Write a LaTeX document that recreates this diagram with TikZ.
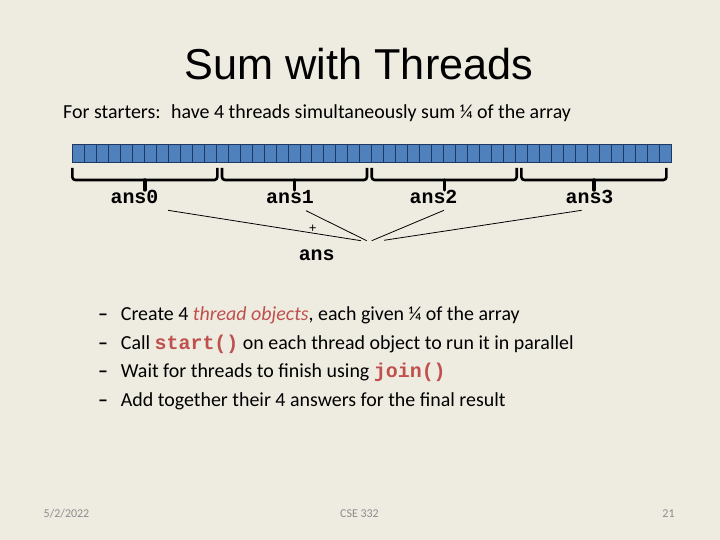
\documentclass[tikz,border=0pt]{standalone}
\usepackage{fontspec}
\setmainfont{Carlito}
\setmonofont{Liberation Mono}
\newfontfamily\headfont{Liberation Sans}
\usetikzlibrary{calc}
\definecolor{slidebg}{RGB}{238,236,225}
\definecolor{cellblue}{RGB}{79,129,189}
\definecolor{celledge}{RGB}{31,56,100}
\definecolor{codered}{RGB}{192,80,77}
\definecolor{footgray}{RGB}{140,140,140}
\newcommand{\code}[1]{\textcolor{codered}{\fontsize{20}{22}\selectfont\ttfamily\bfseries #1}}
\newcommand{\dashitem}{\makebox[22.7bp][l]{\bfseries –}}

\begin{document}
\begin{tikzpicture}[x=1bp,y=-1bp,
		cell/.style={draw=celledge, fill=cellblue, line width=0.6bp},
		bracket/.style={line width=2.6bp, rounded corners=3bp},
		lbl/.style={inner sep=0pt, anchor=base, font=\ttfamily\bfseries\fontsize{20}{20}\selectfont},
		item/.style={inner sep=0pt, anchor=base west, font=\fontsize{20}{24}\selectfont},
		foot/.style={inner sep=0pt, text=footgray, font=\fontsize{12}{14}\selectfont}]
		
		\fill[slidebg] (0,0) rectangle (720,540);
		\useasboundingbox (0,0) rectangle (720,540);
		
		\node(title) [inner sep=0pt, anchor=base, font=\headfont\fontsize{43.4}{50}\selectfont] at (359,80) {Sum with Threads};
		\node(intro) [item] at (63,118.7) {For starters:~ have 4 threads simultaneously sum ¼ of the array};
		
		% the array
		\foreach \i in {0,...,49}
		\draw[cell] (72.3+\i*11.974,144) rectangle ++(11.974,18);
		
		% one brace per quarter
		\foreach \k in {0,...,3} {
			\pgfmathsetmacro\bl{72.3+\k*149.7}
			\draw[bracket] (\bl,168) -- (\bl,180) -- (\bl+145,180) -- (\bl+145,168);
			\draw[line width=3.4bp, line cap=round] (\bl+72.5,180) -- (\bl+72.5,190);
		}
		
		\node(ans0) [lbl] at (134.5,203.3) {ans0};
		\node(ans1) [lbl] at (290,203.3) {ans1};
		\node(ans2) [lbl] at (433.5,203.3) {ans2};
		\node(ans3) [lbl] at (589.5,203.3) {ans3};
		\node(plus) [inner sep=0pt, font=\ttfamily\fontsize{13}{13}\selectfont] at (312.7,228.7) {+};
		\node(ans)  [lbl] at (316.7,261) {ans};
		
		\coordinate (j0) at (361,240.7);
		\coordinate (j1) at (366.7,240.7);
		\coordinate (j2) at (371.7,240.7);
		\coordinate (j3) at (384,240.3);
		\draw[line width=0.8bp] ($(ans0.base)+(33.5,7)$) -- (j0);
		\draw[line width=0.8bp] ($(ans1.base)+(16,7.4)$) -- (j1);
		\draw[line width=0.8bp] ($(ans2.base)+(10.5,7)$) -- (j2);
		\draw[line width=0.8bp] ($(ans3.base)+(-7.8,7)$) -- (j3);
		
		\node(b1) [item] at (98,320.5) {\dashitem Create 4 \textcolor{codered}{\itshape thread objects}, each given ¼ of the array};
		\node(b2) [item] at (98,349) {\dashitem Call \code{start()} on each thread object to run it in parallel};
		\node(b3) [item] at (98,377.5) {\dashitem Wait for threads to finish using \code{join()}};
		\node(b4) [item] at (98,406) {\dashitem Add together their 4 answers for the final result};
		
		\node(date)   [foot] at (66.5,514) {5/2/2022};
		\node(course) [foot] at (359.5,514) {CSE 332};
		\node(page)   [foot] at (668.5,514) {21};
	\end{tikzpicture}
\end{document}
